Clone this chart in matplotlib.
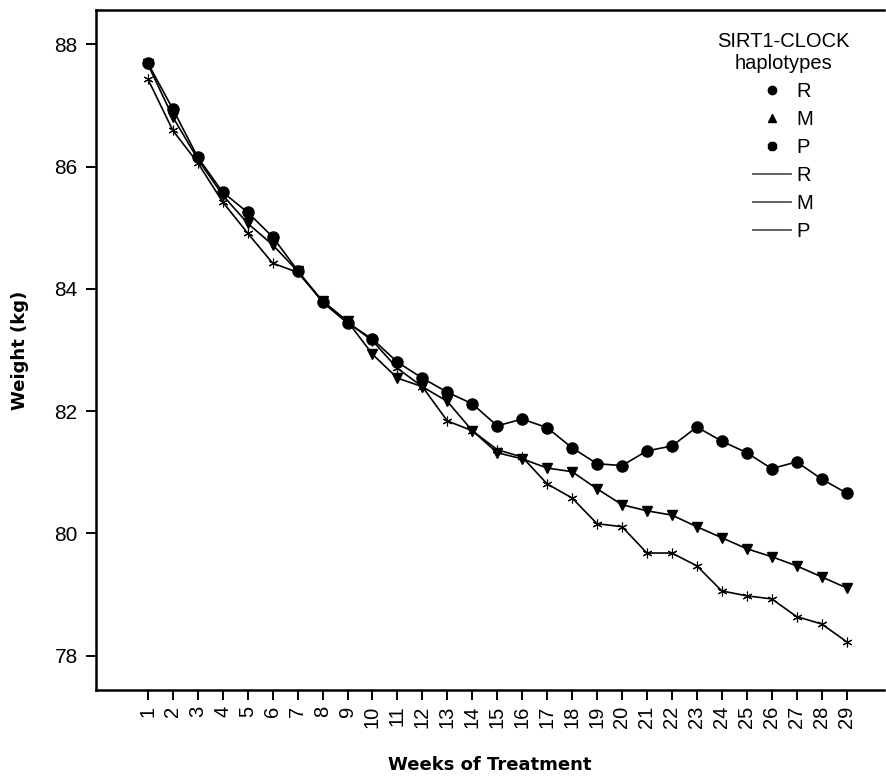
import matplotlib
matplotlib.use("Agg")
import matplotlib.pyplot as plt
from matplotlib.lines import Line2D

weeks = list(range(1, 30))

weight_r = [87.69, 86.94, 86.15, 85.58, 85.25, 84.85, 84.30, 83.78, 83.44, 83.18,
            82.80, 82.54, 82.31, 82.12, 81.76, 81.87, 81.73, 81.40, 81.14, 81.11,
            81.35, 81.43, 81.74, 81.51, 81.32, 81.06, 81.17, 80.89, 80.66]
weight_m = [87.67, 86.81, 86.12, 85.53, 85.07, 84.72, 84.29, 83.80, 83.47, 82.93,
            82.54, 82.40, 82.16, 81.68, 81.32, 81.22, 81.07, 81.01, 80.73, 80.47,
            80.37, 80.30, 80.11, 79.93, 79.75, 79.62, 79.47, 79.29, 79.11]
weight_p = [87.43, 86.59, 86.06, 85.42, 84.91, 84.42, 84.27, 83.80, 83.46, 83.15,
            82.70, 82.40, 81.84, 81.68, 81.37, 81.25, 80.81, 80.58, 80.16, 80.11,
            79.68, 79.68, 79.47, 79.06, 78.98, 78.93, 78.64, 78.52, 78.23]

yticks = [78, 80, 82, 84, 86, 88]
legend_labels = ["R", "M", "P"]

sans = ["Liberation Sans", "DejaVu Sans"]
bold = ["DejaVu Sans", "Liberation Sans"]

fig = plt.figure(figsize=(8.87, 7.76), dpi=100)
ax = fig.add_axes([96 / 887, 1 - 690 / 776, (884 - 96) / 887, (690 - 10) / 776])

lw = 1.2
ax.plot(weeks, weight_r, color="black", lw=lw, marker="o", ms=8, zorder=3)
ax.plot(weeks, weight_m, color="black", lw=lw, marker="v", ms=7, zorder=2)
ax.plot(weeks, weight_p, color="black", lw=lw, marker=(6, 2, 0), ms=7,
        markeredgewidth=0.8, zorder=1)

ax.set_xlim(-1.08, 30.5)
ax.set_ylim(77.44, 88.56)
ax.set_xticks(weeks)
ax.set_xticklabels([str(w) for w in weeks], rotation=90, family=sans, fontsize=14.5)
ax.set_yticks(yticks)
ax.set_yticklabels([str(v) for v in yticks], family=sans, fontsize=15)
ax.tick_params(direction="out", length=7.2, width=1.4)
ax.tick_params(axis="y", pad=6)
ax.tick_params(axis="x", pad=4)

for side in ["left", "bottom", "top"]:
    ax.spines[side].set_linewidth(1.8)
ax.spines["right"].set_visible(False)

ax.set_xlabel("Weeks of Treatment", family=bold, fontweight="bold", fontsize=13, labelpad=20)
ax.set_ylabel("Weight (kg)", family=bold, fontweight="bold", fontsize=13, labelpad=18)

handles = [
    Line2D([], [], ls="none", marker="o", ms=6, color="black"),
    Line2D([], [], ls="none", marker="^", ms=6, color="black"),
    Line2D([], [], ls="none", marker="8", ms=7, color="black"),
    Line2D([], [], color="#555555", lw=1.3),
    Line2D([], [], color="#555555", lw=1.3),
    Line2D([], [], color="#555555", lw=1.3),
]
leg = ax.legend(handles, legend_labels * 2, title="SIRT1-CLOCK\nhaplotypes",
                frameon=False, loc="upper left", bbox_to_anchor=(0.765, 0.995),
                prop={"family": sans, "size": 14.5}, title_fontproperties={"family": sans, "size": 14.5},
                handlelength=1.9, handletextpad=0.25, labelspacing=0.45)
leg._legend_box.align = "center"
leg.get_title().set_multialignment("center")

fig.savefig("out.png", dpi=100)
